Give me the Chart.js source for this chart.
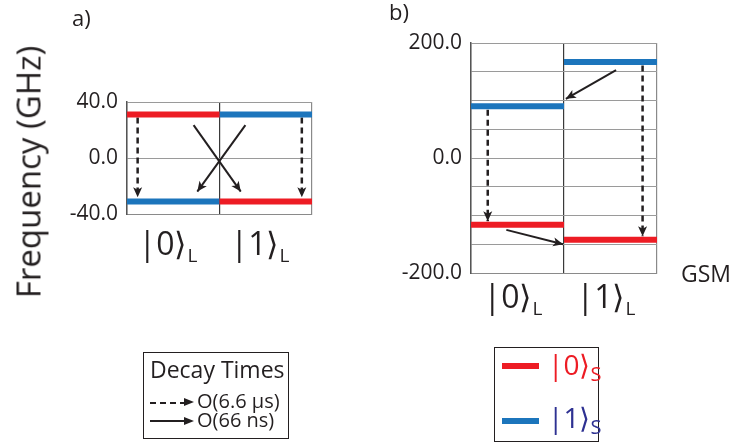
<!DOCTYPE html>
<html>
<head>
<meta charset="utf-8">
<script src="https://cdn.jsdelivr.net/npm/chart.js@4/dist/chart.umd.min.js"></script>
<style>
body { margin: 0; width: 734px; height: 443px; position: relative; background: #fff; overflow: hidden;
       font-family: 'Open Sans', sans-serif; color: #231f20; }
canvas { position: absolute; left: 0; top: 0; }
.t { position: absolute; white-space: nowrap; line-height: 1; }
.ket { position: absolute; white-space: nowrap; line-height: 1; font-size: 32px; transform: translateX(-50%); }
.ket sub { font-size: 19px; vertical-align: -7px; margin-left: 1px; }
.leg sub { font-size: 20px; vertical-align: -6px; }
.box { position: absolute; border: 1px solid #231f20; box-sizing: border-box; }
.dash { position: absolute; height: 2.5px; background: repeating-linear-gradient(90deg, #231f20 0 6px, transparent 6px 10px); }
.solid { position: absolute; height: 2px; background: #231f20; }
.head { position: absolute; width: 0; height: 0; border-top: 4.5px solid transparent; border-bottom: 4.5px solid transparent; border-left: 10px solid #231f20; }
.bar { position: absolute; height: 6px; }
.leg { position: absolute; white-space: nowrap; line-height: 1; font-size: 28px; }
</style>
</head>
<body>
<canvas id="panelA" width="734" height="443"></canvas>
<canvas id="panelB" width="734" height="443"></canvas>

<div class="t" style="left:72px;top:6px;font-size:22px">a)</div>
<div class="t" style="left:389px;top:0px;font-size:22px">b)</div>
<div class="t" style="left:28px;top:172px;font-size:33px;transform:translate(-50%,-50%) rotate(-90deg)">Frequency (GHz)</div>
<div class="t" style="left:681px;top:262px;font-size:23px">GSM</div>

<div class="ket" style="left:168px;top:227px">|0⟩<sub>L</sub></div>
<div class="ket" style="left:260px;top:227px">|1⟩<sub>L</sub></div>
<div class="ket" style="left:513px;top:280px">|0⟩<sub>L</sub></div>
<div class="ket" style="left:606px;top:280px">|1⟩<sub>L</sub></div>

<!-- decay time legend -->
<div class="box" style="left:143px;top:352px;width:146px;height:87px"></div>
<div class="t" style="left:150px;top:358px;font-size:23px">Decay Times</div>
<div class="dash" style="left:150px;top:401.5px;width:36px"></div>
<div class="head" style="left:184px;top:398px"></div>
<div class="t" style="left:197px;top:391px;font-size:20px">O(6.6 µs)</div>
<div class="solid" style="left:150px;top:420px;width:36px"></div>
<div class="head" style="left:184px;top:416.5px"></div>
<div class="t" style="left:197px;top:410px;font-size:20px">O(66 ns)</div>

<!-- state legend -->
<div class="box" style="left:494px;top:347px;width:105px;height:95px"></div>
<div class="bar" style="left:502px;top:363px;width:37px;background:#ed1c24"></div>
<div class="leg" style="left:548px;top:350px;color:#ed1c24">|0⟩<sub>S</sub></div>
<div class="bar" style="left:502px;top:418px;width:37px;background:#1c75bc"></div>
<div class="leg" style="left:548px;top:403px;color:#2e3192">|1⟩<sub>S</sub></div>

<script>
// level energies (GHz) in the |0>L and |1>L columns
const aZeroS = [31, -31]
const aOneS = [-31, 31]
const bZeroS = [-116, -142]
const bOneS = [90, 167]

// arrows: [x0, y0, x1, y1] in (column, GHz)
const aSlow = [[0.115, 29, 0.115, -28], [1.89, 29, 1.89, -28]]
const aFast = [[0.72, 23.5, 1.23, -24], [1.28, 23.5, 0.76, -24]]
const bSlow = [[0.18, 84, 0.18, -110], [1.845, 161, 1.845, -136]]
const bFast = [[1.56, 153, 1.02, 103], [0.38, -125, 0.99, -150]]

const RED = '#ed1c24'
const BLUE = '#1c75bc'
const INK = '#231f20'

// draws the heads at the end of the arrow datasets
const arrowHeads = {
    id: 'arrowHeads',
    afterDatasetsDraw(chart) {
        let ctx = chart.ctx
        chart.data.datasets.forEach((ds, i) => {
            if (!ds.arrowHead) return
            let pts = chart.getDatasetMeta(i).data
            let p0 = pts[0], p1 = pts[1]
            let ang = Math.atan2(p1.y - p0.y, p1.x - p0.x)
            ctx.save()
            ctx.translate(p1.x, p1.y)
            ctx.rotate(ang)
            ctx.beginPath()
            ctx.moveTo(0, 0)
            ctx.lineTo(-10, -4.5)
            ctx.lineTo(-7.5, 0)
            ctx.lineTo(-10, 4.5)
            ctx.closePath()
            ctx.fillStyle = INK
            ctx.fill()
            ctx.restore()
        })
    }
}

function levelSet(vals, color) {
    return vals.map((v, i) => ({
        data: [{ x: i, y: v }, { x: i + 1, y: v }],
        borderColor: color, borderWidth: 6, borderCapStyle: 'butt', pointRadius: 0
    }))
}

function arrowSet(list, dashed) {
    return list.map(a => ({
        data: [{ x: a[0], y: a[1] }, { x: a[2], y: a[3] }],
        borderColor: INK, borderWidth: dashed ? 2.5 : 2, borderDash: dashed ? [6, 4] : [],
        borderCapStyle: 'butt', pointRadius: 0, arrowHead: true
    }))
}

function panel(id, area, yMax, yStep, labelStep, zeroS, oneS, slow, fast) {
    let ctx = document.getElementById(id).getContext('2d')
    return new Chart(ctx, {
        type: 'line',
        data: {
            datasets: [
                ...levelSet(zeroS, RED),
                ...levelSet(oneS, BLUE),
                ...arrowSet(slow, true),
                ...arrowSet(fast, false),
            ]
        },
        options: {
            responsive: false,
            animation: false,
            events: [],
            layout: { padding: { left: 0, top: area.top, right: 734 - area.right, bottom: 443 - area.bottom } },
            plugins: { legend: { display: false }, tooltip: { enabled: false } },
            scales: {
                x: {
                    type: 'linear', min: 0, max: 2,
                    ticks: { stepSize: 1, display: false },
                    grid: { drawTicks: false, color: c => c.tick.value === 1 ? '#3a3a3a' : '#8a8a8a', lineWidth: 1.2 },
                    border: { display: true, color: '#8a8a8a' },
                    afterFit: s => { s.height = 0 }
                },
                y: {
                    min: -yMax, max: yMax,
                    ticks: {
                        stepSize: yStep, padding: 9, color: INK,
                        font: { family: 'Open Sans', size: 21 },
                        callback: v => v % labelStep === 0 ? v.toFixed(1) : ''
                    },
                    grid: { drawTicks: false, color: '#9a9a9a', lineWidth: 1 },
                    border: { display: true, color: '#555', width: 1.5 },
                    afterFit: s => { s.width = area.left }
                }
            }
        },
        plugins: [arrowHeads]
    })
}

panel('panelA', { left: 127, top: 102, right: 312, bottom: 214 }, 40, 20, 40, aZeroS, aOneS, aSlow, aFast)
panel('panelB', { left: 471, top: 43, right: 657, bottom: 273 }, 200, 50, 200, bZeroS, bOneS, bSlow, bFast)
</script>
</body>
</html>
